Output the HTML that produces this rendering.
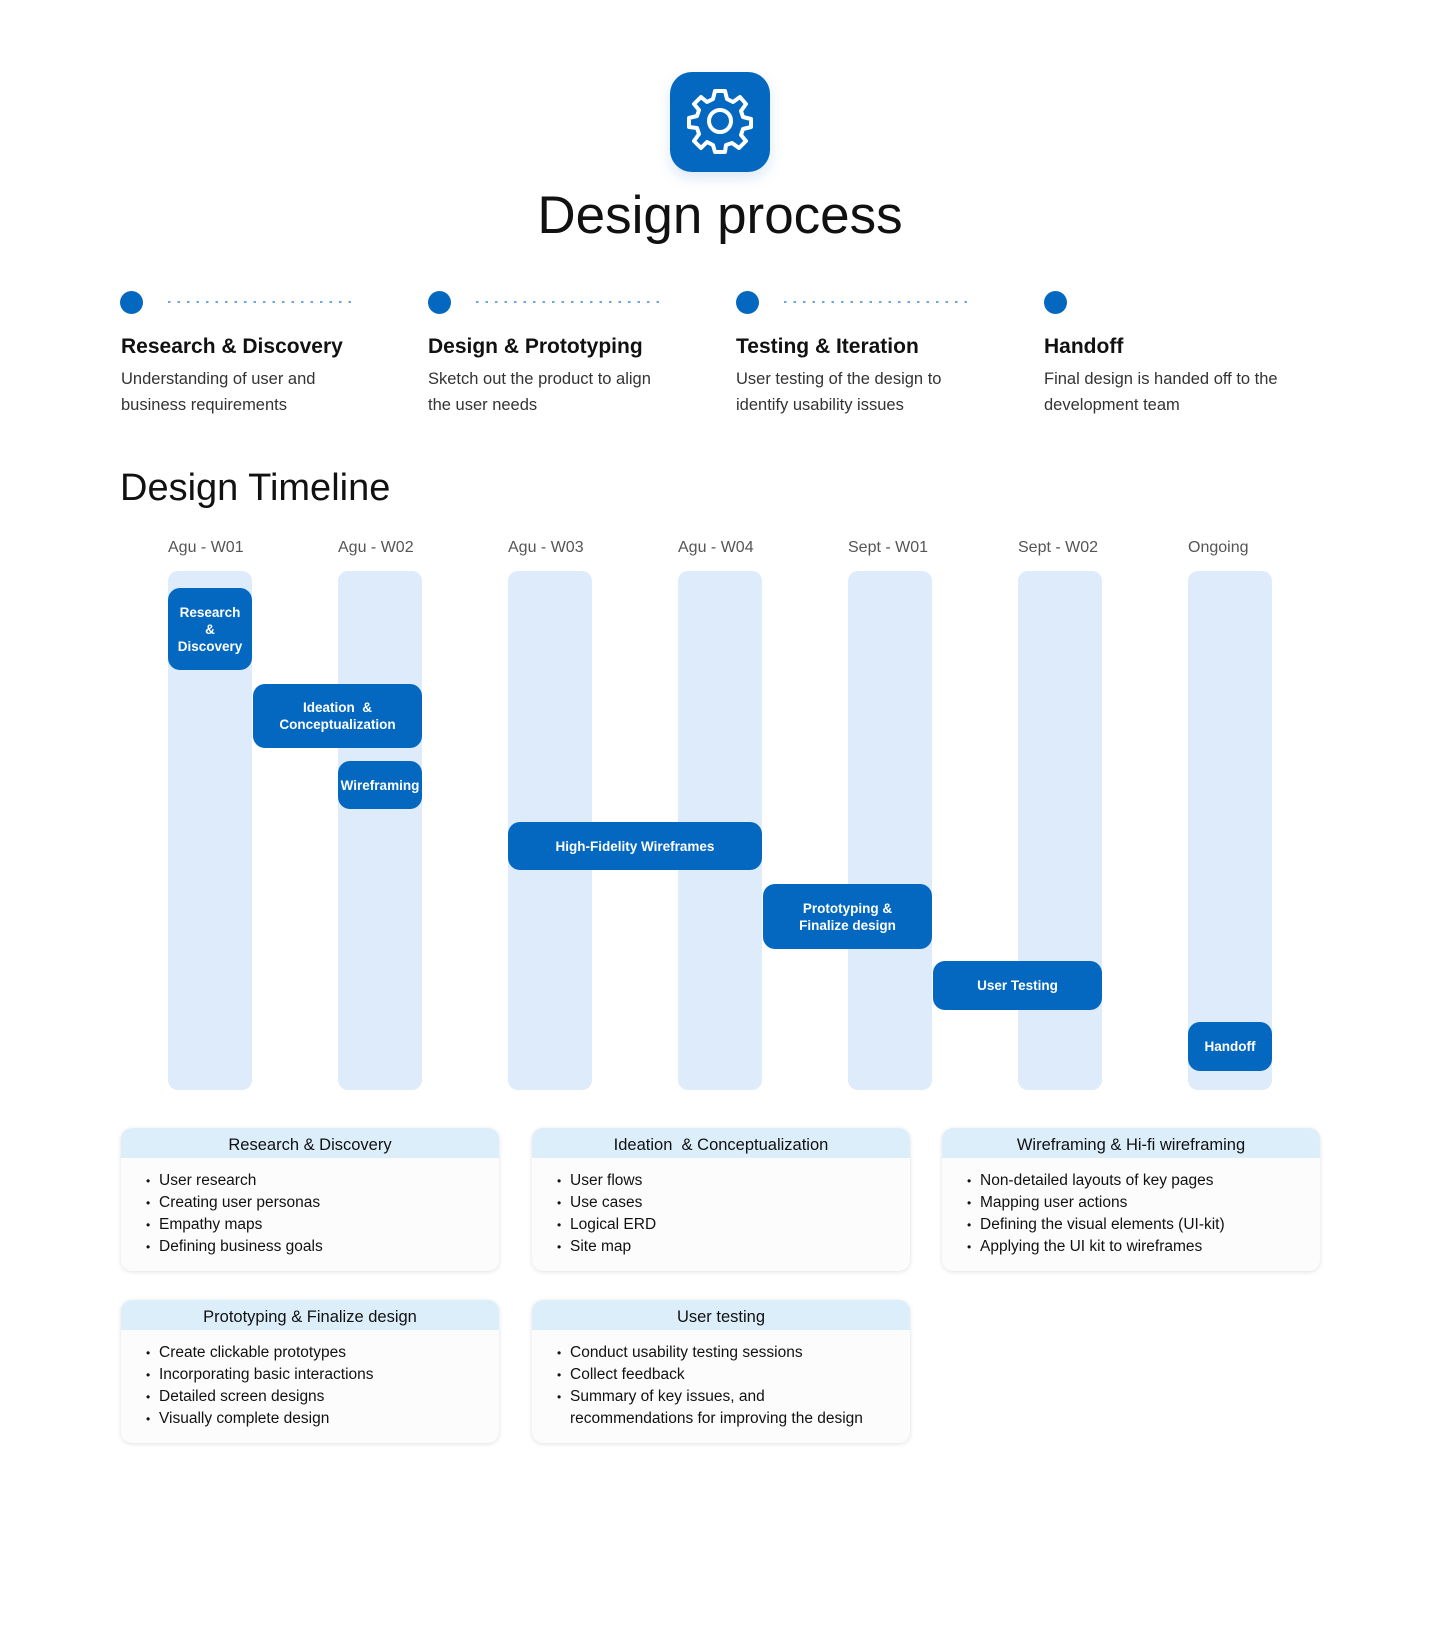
<!DOCTYPE html>
<html><head><meta charset="utf-8"><style>
*{margin:0;padding:0;box-sizing:border-box}
body{width:1440px;height:1647px;background:#fff;position:relative;font-family:"Liberation Sans",sans-serif;color:#111;overflow:hidden}
.a{position:absolute}
.dot{width:23px;height:23px;border-radius:50%;background:#0468c0}
.dl{height:2px;width:184px;background:repeating-linear-gradient(90deg,#6fa6dc 0 2.5px,transparent 2.5px 9.5px)}
.h{font-size:21px;font-weight:bold;white-space:nowrap}
.d{font-size:16.5px;color:#333;line-height:26px;width:300px;white-space:nowrap}
.wk{font-size:16px;color:#555;width:100px;top:539px}
.col{width:84px;top:571px;height:519px;background:#ddebfa;border-radius:10px}
.bar{background:#0468c0;color:#fff;font-size:13.5px;font-weight:bold;border-radius:12px;display:flex;align-items:center;justify-content:center;text-align:center;line-height:17px}
.card{width:378px;height:143px;background:#fcfcfc;border-radius:11px;box-shadow:0 1px 5px rgba(0,0,0,.12);overflow:hidden}
.ch{height:30px;background:#ddeefb;text-align:center;font-size:16.5px;line-height:34px;color:#111}
.card ul{list-style:none;padding:12px 0 0 25px;font-size:15.5px;line-height:22px}
.card li{position:relative;padding-left:13px}
.card li:before{content:"•";position:absolute;left:0;font-size:12px}
</style></head><body>
<div class="a" style="left:670px;top:72px;width:100px;height:100px;background:#0468c0;border-radius:22px;box-shadow:0 6px 14px rgba(4,104,192,.15)">
<svg width="100" height="100" viewBox="0 0 100 100"><g transform="translate(50,49)" fill="none" stroke="#fff" stroke-width="4" stroke-linejoin="round">
<path d="M-5,-30 L5,-30 L7,-22 L13,-19 L20,-24 L26,-17 L21,-10 L23,-4 L31,-2 L31,6 L23,8 L21,14 L26,20 L19,27 L12,22 L6,24 L5,31 L-5,31 L-7,24 L-13,21 L-19,27 L-26,20 L-21,13 L-23,7 L-31,6 L-31,-3 L-23,-5 L-21,-11 L-26,-17 L-19,-24 L-13,-19 L-7,-22 Z"/>
<circle r="11"/></g></svg></div>
<div class="a" style="left:0;width:1440px;top:184px;text-align:center;font-size:53px;line-height:64px">Design process</div>

<div class="a dot" style="left:120px;top:291px"></div><div class="a dl" style="left:168px;top:301px"></div>
<div class="a dot" style="left:428px;top:291px"></div><div class="a dl" style="left:476px;top:301px"></div>
<div class="a dot" style="left:736px;top:291px"></div><div class="a dl" style="left:784px;top:301px"></div>
<div class="a dot" style="left:1044px;top:291px"></div>

<div class="a h" style="left:121px;top:335px">Research &amp; Discovery</div>
<div class="a d" style="left:121px;top:366px">Understanding of user and<br>business requirements</div>
<div class="a h" style="left:428px;top:335px">Design &amp; Prototyping</div>
<div class="a d" style="left:428px;top:366px">Sketch out the product to align<br>the user needs</div>
<div class="a h" style="left:736px;top:335px">Testing &amp; Iteration</div>
<div class="a d" style="left:736px;top:366px">User testing of the design to<br>identify usability issues</div>
<div class="a h" style="left:1044px;top:335px">Handoff</div>
<div class="a d" style="left:1044px;top:366px">Final design is handed off to the<br>development team</div>

<div class="a" style="left:120px;top:465px;font-size:38px;line-height:46px">Design Timeline</div>

<div class="a wk" style="left:168px">Agu - W01</div>
<div class="a wk" style="left:338px">Agu - W02</div>
<div class="a wk" style="left:508px">Agu - W03</div>
<div class="a wk" style="left:678px">Agu - W04</div>
<div class="a wk" style="left:848px">Sept - W01</div>
<div class="a wk" style="left:1018px">Sept - W02</div>
<div class="a wk" style="left:1188px">Ongoing</div>

<div class="a col" style="left:168px"></div>
<div class="a col" style="left:338px"></div>
<div class="a col" style="left:508px"></div>
<div class="a col" style="left:678px"></div>
<div class="a col" style="left:848px"></div>
<div class="a col" style="left:1018px"></div>
<div class="a col" style="left:1188px"></div>

<div class="a bar" style="left:168px;top:588px;width:84px;height:82px">Research<br>&amp;<br>Discovery</div>
<div class="a bar" style="left:253px;top:684px;width:169px;height:64px">Ideation &nbsp;&amp;<br>Conceptualization</div>
<div class="a bar" style="left:338px;top:761px;width:84px;height:48px">Wireframing</div>
<div class="a bar" style="left:508px;top:822px;width:254px;height:48px">High-Fidelity Wireframes</div>
<div class="a bar" style="left:763px;top:884px;width:169px;height:65px">Prototyping &amp;<br>Finalize design</div>
<div class="a bar" style="left:933px;top:961px;width:169px;height:49px">User Testing</div>
<div class="a bar" style="left:1188px;top:1022px;width:84px;height:49px">Handoff</div>

<div class="a card" style="left:121px;top:1128px"><div class="ch">Research &amp; Discovery</div><ul><li>User research</li><li>Creating user personas</li><li>Empathy maps</li><li>Defining business goals</li></ul></div>
<div class="a card" style="left:532px;top:1128px"><div class="ch">Ideation &nbsp;&amp; Conceptualization</div><ul><li>User flows</li><li>Use cases</li><li>Logical ERD</li><li>Site map</li></ul></div>
<div class="a card" style="left:942px;top:1128px"><div class="ch">Wireframing &amp; Hi-fi wireframing</div><ul><li>Non-detailed layouts of key pages</li><li>Mapping user actions</li><li>Defining the visual elements (UI-kit)</li><li>Applying the UI kit to wireframes</li></ul></div>
<div class="a card" style="left:121px;top:1300px"><div class="ch">Prototyping &amp; Finalize design</div><ul><li>Create clickable prototypes</li><li>Incorporating basic interactions</li><li>Detailed screen designs</li><li>Visually complete design</li></ul></div>
<div class="a card" style="left:532px;top:1300px"><div class="ch">User testing</div><ul><li>Conduct usability testing sessions</li><li>Collect feedback</li><li>Summary of key issues, and<br>recommendations for improving the design</li></ul></div>
</body></html>
